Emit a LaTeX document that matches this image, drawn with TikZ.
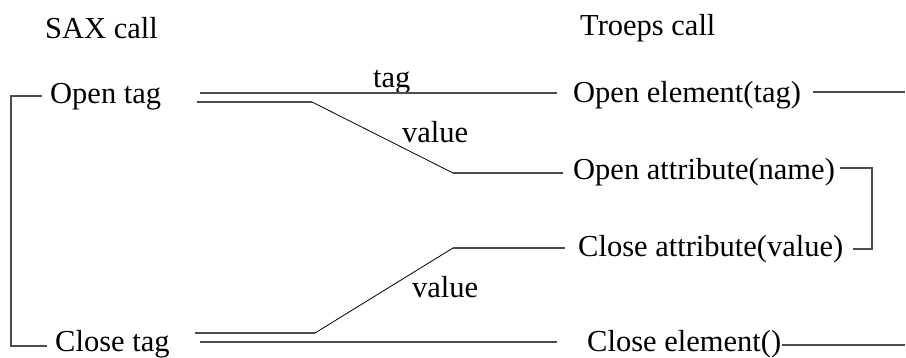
\documentclass[tikz,border=0pt]{standalone}
\usepackage{fontspec}
\setmainfont{Liberation Serif}
\begin{document}
\begin{tikzpicture}[x=1pt,y=-1pt,
  txt/.style={anchor=base west,inner sep=0pt,font=\fontsize{30.5}{36}\selectfont},
  lbl/.style={anchor=base west,inner sep=0pt,font=\fontsize{30.5}{36}\selectfont},
  wire/.style={draw=black!70,line width=1.1pt},
  slant/.style={draw=black,line width=0.8pt,line join=miter}]
\useasboundingbox (0,0) rectangle (906,358);
% headers
\node[txt] (sax) at (45,39) {SAX call};
\node[txt] (troeps) at (580,36) {Troeps call};
% left texts
\node[txt] (opentag) at (50,104) {Open tag};
\node[txt] (closetag) at (55,352) {Close tag};
% right texts
\node[txt] (openel) at (573,103) {Open element(tag)};
\node[txt] (openattr) at (573,180) {Open attribute(name)};
\node[txt] (closeattr) at (578,257) {Close attribute(value)};
\node[txt] (closeel) at (587,352) {Close element()};
% labels
\node[lbl] (ltag) at (373,88) {tag};
\node[lbl] (lval1) at (402,143) {value};
\node[lbl] (lval2) at (412,298) {value};
% coordinates
\coordinate (b1) at (42,96);
\coordinate (b2) at (11,96);
\coordinate (b3) at (11,346);
\coordinate (b4) at (47,346);
\coordinate (t1) at (200,93);
\coordinate (t2) at (557,93);
\coordinate (u1) at (197,102);
\coordinate (u2) at (312,102);
\coordinate (u3) at (453,173);
\coordinate (u4) at (563,173);
\coordinate (c1) at (195,333);
\coordinate (c2) at (315,333);
\coordinate (c3) at (453,248);
\coordinate (c4) at (565,248);
\coordinate (d1) at (200,342);
\coordinate (d2) at (557,342);
\coordinate (e1) at (813,92);
\coordinate (e2) at (905,92);
\coordinate (r1) at (840,168);
\coordinate (r2) at (872,168);
\coordinate (r3) at (872,249);
\coordinate (r4) at (853,249);
\coordinate (f1) at (782,345);
\coordinate (f2) at (905,345);
% connectors
\draw[wire] (b1) -- (b2) -- (b3) -- (b4);
\draw[wire] (t1) -- (t2);
\draw[wire] (u1) -- (u2);
\draw[slant] (u2) -- (u3);
\draw[wire] (u3) -- (u4);
\draw[wire] (c1) -- (c2);
\draw[slant] (c2) -- (c3);
\draw[wire] (c3) -- (c4);
\draw[wire] (d1) -- (d2);
\draw[wire] (e1) -- (e2);
\draw[wire] (r1) -- (r2) -- (r3) -- (r4);
\draw[wire] (f1) -- (f2);
\end{tikzpicture}
\end{document}
